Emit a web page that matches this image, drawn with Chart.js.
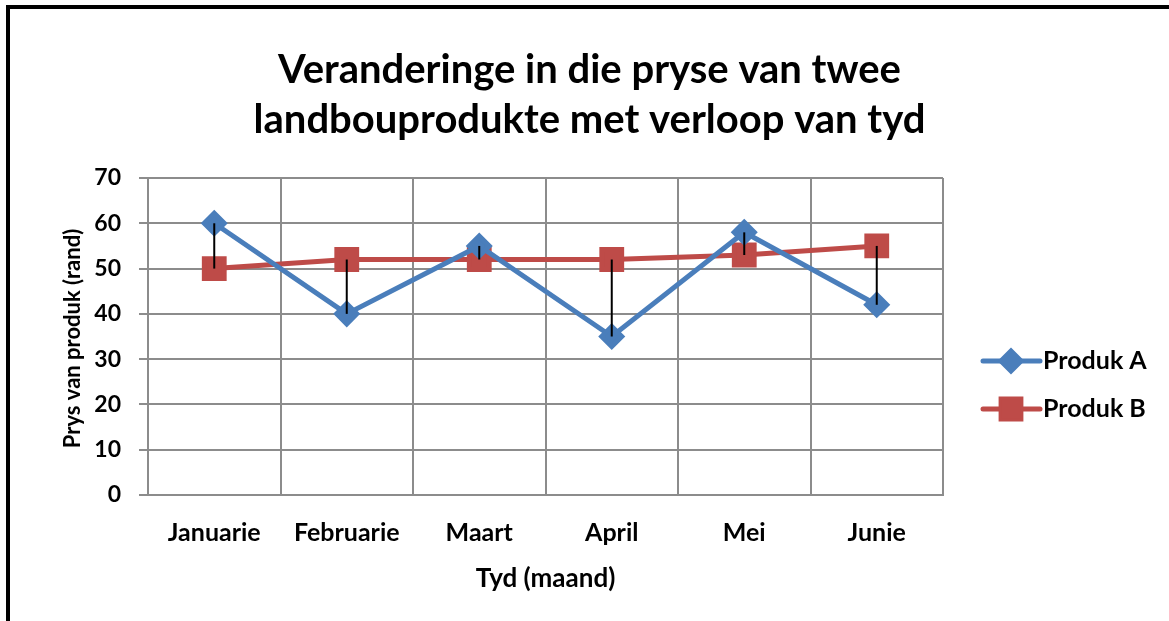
<!DOCTYPE html>
<html>
<head>
<meta charset="utf-8">
<title>Veranderinge in die pryse van twee landbouprodukte</title>
<script src="https://cdn.jsdelivr.net/npm/chart.js@4"></script>
<style>
    body { margin: 0; background: #ffffff; }
    #wrap { width: 1169px; height: 621px; }
</style>
</head>
<body>
<div id="wrap"><canvas id="priceChart" width="1169" height="621"></canvas></div>
<script>
// Data
const months = ['Januarie', 'Februarie', 'Maart', 'April', 'Mei', 'Junie'];
const produkA = [60, 40, 55, 35, 58, 42];
const produkB = [50, 52, 52, 52, 53, 55];
const seriesNames = ['Produk A', 'Produk B'];
const titleLines = ['Veranderinge in die pryse van twee', 'landbouprodukte met verloop van tyd'];
const yTitle = 'Prys van produk (rand)';
const xTitle = 'Tyd (maand)';

const blue = '#4a7ebb';
const red = '#be4b48';
const gridGrey = '#8c8c8c';

Chart.defaults.font.family = 'Lato, "Liberation Sans", sans-serif';
Chart.defaults.font.weight = 'bold';
Chart.defaults.color = '#000000';

// Black frame on the top and left edge
const framePlugin = {
    id: 'frame',
    beforeDraw(chart) {
        const ctx = chart.ctx;
        ctx.save();
        ctx.fillStyle = '#ffffff';
        ctx.fillRect(0, 0, chart.width, chart.height);
        ctx.fillStyle = '#000000';
        ctx.fillRect(6, 5, chart.width, 4);
        ctx.fillRect(6, 5, 4, chart.height);
        ctx.restore();
    }
};

// Rotated y axis title, centred on the plot area
const yTitlePlugin = {
    id: 'yTitle',
    afterDraw(chart) {
        const ctx = chart.ctx;
        const area = chart.chartArea;
        ctx.save();
        ctx.translate(73, (area.top + area.bottom) / 2 + 2);
        ctx.rotate(-Math.PI / 2);
        ctx.fillStyle = '#000000';
        ctx.font = 'bold 22px Lato, sans-serif';
        ctx.textAlign = 'center';
        ctx.textBaseline = 'middle';
        ctx.fillText(yTitle, 0, 0);
        ctx.restore();
    }
};

// Black high-low lines between the two series
const dropLinePlugin = {
    id: 'dropLines',
    afterDatasetsDraw(chart) {
        const a = chart.getDatasetMeta(0).data;
        const b = chart.getDatasetMeta(1).data;
        const ctx = chart.ctx;
        ctx.save();
        ctx.strokeStyle = '#000000';
        ctx.lineWidth = 2;
        for (let i = 0; i < a.length; i++) {
            ctx.beginPath();
            ctx.moveTo(a[i].x, a[i].y);
            ctx.lineTo(b[i].x, b[i].y);
            ctx.stroke();
        }
        ctx.restore();
    }
};

// Legend on the right: line sample with marker, then the name
const legendPlugin = {
    id: 'sideLegend',
    afterDraw(chart) {
        const ctx = chart.ctx;
        const x0 = chart.chartArea.right + 40;
        const y0 = 361;
        const gap = 48;
        ctx.save();
        chart.data.datasets.forEach((ds, i) => {
            const y = y0 + i * gap;
            ctx.strokeStyle = ds.borderColor;
            ctx.lineWidth = 5;
            ctx.lineCap = 'round';
            ctx.beginPath();
            ctx.moveTo(x0, y);
            ctx.lineTo(x0 + 57, y);
            ctx.stroke();
            Chart.helpers.drawPoint(ctx, {
                pointStyle: ds.pointStyle,
                radius: ds.pointRadius,
                borderWidth: 1
            }, x0 + 28, y);
            ctx.fillStyle = ds.pointBackgroundColor;
            ctx.fill();
            ctx.fillStyle = '#000000';
            ctx.font = 'bold 25px Lato, sans-serif';
            ctx.textBaseline = 'middle';
            ctx.textAlign = 'left';
            ctx.fillText(ds.label, x0 + 60, y);
        });
        ctx.restore();
    }
};

const ctx = document.getElementById('priceChart').getContext('2d');
const priceChart = new Chart(ctx, {
    type: 'line',
    data: {
        labels: months,
        datasets: [{
            label: seriesNames[0],
            data: produkA,
            borderColor: blue,
            backgroundColor: blue,
            pointBackgroundColor: blue,
            pointBorderColor: blue,
            borderWidth: 5,
            pointStyle: 'rectRot',
            pointRadius: 10,
            pointHoverRadius: 10,
            tension: 0
        }, {
            label: seriesNames[1],
            data: produkB,
            borderColor: red,
            backgroundColor: red,
            pointBackgroundColor: red,
            pointBorderColor: red,
            borderWidth: 5,
            pointStyle: 'rect',
            pointRadius: 14,
            pointHoverRadius: 14,
            tension: 0
        }]
    },
    options: {
        responsive: false,
        animation: false,
        events: [],
        layout: {
            padding: { left: 10, top: 10, right: 0, bottom: 0 }
        },
        plugins: {
            legend: { display: false },
            tooltip: { enabled: false },
            title: {
                display: true,
                text: titleLines,
                font: { size: 40, weight: 'bold', lineHeight: 1.25 },
                color: '#000000',
                padding: { top: 35, bottom: 33 }
            }
        },
        scales: {
            x: {
                offset: true,
                grid: {
                    display: true,
                    offset: true,
                    color: gridGrey,
                    lineWidth: 2,
                    drawTicks: false
                },
                border: { display: true, color: gridGrey, width: 2 },
                ticks: {
                    padding: 23,
                    font: { size: 25, weight: 'bold' }
                },
                title: {
                    display: true,
                    text: xTitle,
                    font: { size: 26, weight: 'bold' },
                    padding: { top: 0, bottom: 27 }
                },
                afterFit(scale) { scale.height = 126; }
            },
            y: {
                min: 0,
                max: 70,
                ticks: {
                    stepSize: 10,
                    padding: 18,
                    font: { size: 23, weight: 'bold' }
                },
                grid: {
                    color: gridGrey,
                    lineWidth: 2,
                    tickLength: 9
                },
                border: { display: true, color: gridGrey, width: 2 },
                afterFit(scale) { scale.width = 138; }
            },
            spacer: {
                position: 'right',
                display: true,
                grid: { display: false },
                border: { display: false },
                ticks: { display: false },
                afterFit(scale) { scale.width = 226; }
            }
        }
    },
    plugins: [framePlugin, yTitlePlugin, dropLinePlugin, legendPlugin]
});
</script>
</body>
</html>
